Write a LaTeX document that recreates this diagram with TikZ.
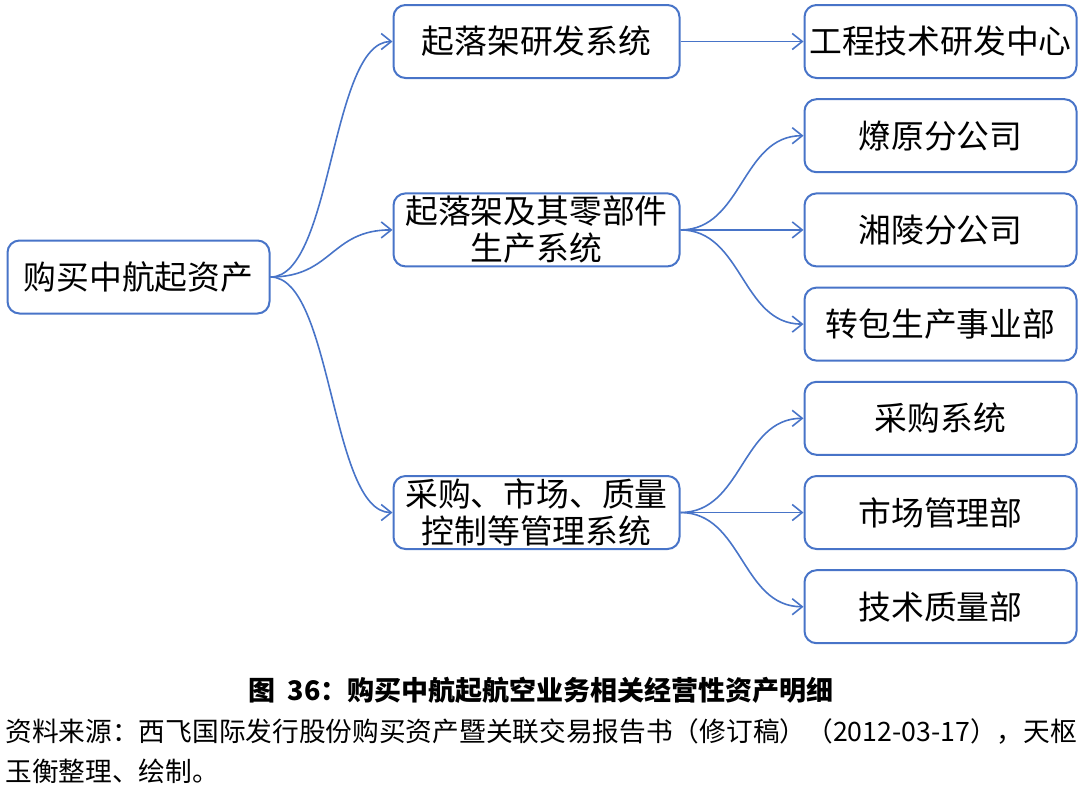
\documentclass[tikz,border=0pt]{standalone}
\usepackage{fontspec}
\setmainfont{Noto Sans CJK SC}
\usepackage{tikz}
\usetikzlibrary{positioning,calc,arrows.meta}
\definecolor{boxblue}{RGB}{72,116,200}
\tikzset{
  unitbox/.style={draw=boxblue, line width=1pt, rounded corners=6pt, fill=white, minimum height=36.5pt, inner sep=0pt, align=center, font=\fontsize{16.4}{18.5}\selectfont},
  rootbox/.style={unitbox, minimum width=131pt},
  sysbox/.style={unitbox, minimum width=143pt},
  deptbox/.style={unitbox, minimum width=136pt},
  link/.style={draw=boxblue, line width=0.8pt, -{Straight Barb[length=5pt,width=8pt]}},
}

\begin{document}
\begin{tikzpicture}[x=0.5pt, y=-0.5pt]
            \useasboundingbox (0,0) rectangle (1080,789);
            % right column
            \node[deptbox] (r1) at (940.5,41.5) {工程技术研发中心};
            \node[deptbox, below=9.6pt of r1] (r2) {燎原分公司};
            \node[deptbox, below=9.6pt of r2] (r3) {湘陵分公司};
            \node[deptbox, below=9.6pt of r3] (r4) {转包生产事业部};
            \node[deptbox, below=9.6pt of r4] (r5) {采购系统};
            \node[deptbox, below=9.6pt of r5] (r6) {市场管理部};
            \node[deptbox, below=9.6pt of r6] (r7) {技术质量部};
            % middle column
            \node[sysbox, left=61.5pt of r1] (m1) {起落架研发系统};
            \node[sysbox, left=61.5pt of r3] (m2) {起落架及其零部件\\生产系统};
            \node[sysbox, left=61.5pt of r6] (m3) {采购、市场、质量\\控制等管理系统};
            % root
            \coordinate (mid) at ($(r3)!.5!(r4)$);
            \node[rootbox, anchor=east, xshift=-61pt] (root) at (m2.west |- mid) {购买中航起资产};

            \draw[link] (root.east) .. controls +(31pt,0) and +(-31pt,0) .. (m1.west);
            \draw[link] (root.east) .. controls +(31pt,0) and +(-31pt,0) .. (m2.west);
            \draw[link] (root.east) .. controls +(31pt,0) and +(-31pt,0) .. (m3.west);
            \draw[link] (m1.east) -- (r1.west);
            \draw[link] (m2.east) .. controls +(31pt,0) and +(-31pt,0) .. (r2.west);
            \draw[link] (m2.east) -- (r3.west);
            \draw[link] (m2.east) .. controls +(31pt,0) and +(-31pt,0) .. (r4.west);
            \draw[link] (m3.east) .. controls +(31pt,0) and +(-31pt,0) .. (r5.west);
            \draw[link] (m3.east) -- (r6.west);
            \draw[link] (m3.east) .. controls +(31pt,0) and +(-31pt,0) .. (r7.west);

            % caption and source
            \node[font=\bfseries\fontsize{13.5}{16}\selectfont] (cap) at (541,690) {图\ \ 36：购买中航起航空业务相关经营性资产明细};
            \node[anchor=west, inner sep=0pt, font=\fontsize{13.35}{16}\selectfont] (src1) at (5,731) {资料来源：西飞国际发行股份购买资产暨关联交易报告书（修订稿）（2012-03-17），天枢};
            \node[anchor=west, inner sep=0pt, font=\fontsize{13.35}{16}\selectfont] (src2) at (5,771) {玉衡整理、绘制。};
        \end{tikzpicture}
\end{document}
